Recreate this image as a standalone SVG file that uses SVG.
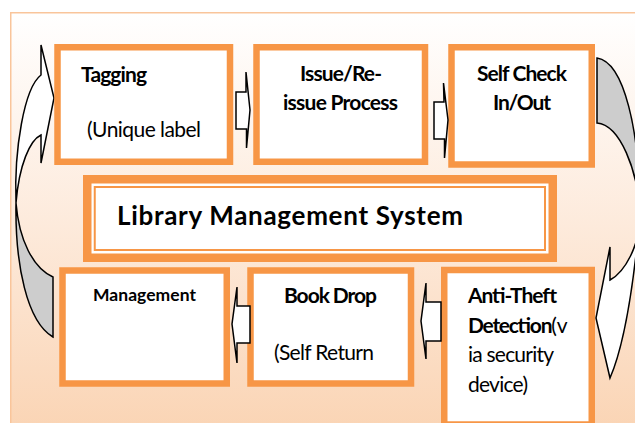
<svg xmlns="http://www.w3.org/2000/svg" width="635" height="423" viewBox="0 0 635 423">
  <defs>
    <linearGradient id="panelFill" x1="0" y1="0" x2="0" y2="1">
      <stop offset="0" stop-color="#FFFFFF"/>
      <stop offset="0.5" stop-color="#FDEADB"/>
      <stop offset="1" stop-color="#FAD3B2"/>
    </linearGradient>
  </defs>
  <style>
    .box { fill: #FFFFFF; stroke: #F79646; stroke-width: 6.5; }
    .band { fill: #FFFFFF; stroke: #F79646; stroke-width: 8.5; }
    .thin { fill: none; stroke: #F79646; stroke-width: 2; }
    .arrow { fill: #FFFFFF; stroke: #000000; stroke-width: 1.5; stroke-linejoin: miter; }
    .back { fill: #CDCDCD; stroke: #000000; stroke-width: 1.5; }
    text { font-family: Lato, "Liberation Sans", sans-serif; fill: #000000; }
    .b { font-weight: bold; font-size: 21px; }
    .r { font-weight: normal; font-size: 21px; }
    .title { font-weight: bold; font-size: 26px; }
    .small { font-weight: bold; font-size: 17.5px; }
  </style>

  <!-- page and panel -->
  <rect x="0" y="0" width="635" height="423" fill="#FFFFFF"/>
  <rect x="10.75" y="12.75" width="640" height="430" fill="url(#panelFill)" stroke="#F9C59B" stroke-width="1.5"/>

  <g id="connectors">
    <!-- left curved arrow: Management back up to Tagging -->
    <path class="back" d="M16,203 C15,265 27,322 53,337 L53,277 C33,268 19,240 16,203 Z"/>
    <path class="arrow" d="M41,75 L41,45 L54,98 L41,163 L41,135 C30,140 19,165 16,203 C14,150 24,88 41,75 Z"/>
    <!-- right curved arrow: Self Check down to Anti-Theft -->
    <path class="back" d="M597,58 C624,62 640,130 640,215 C638,170 620,125 597,123 Z"/>
    <path class="arrow" d="M610,280 L610,247 L596,318 L610,378 C620,355 632,305 640,215 C640,245 625,272 610,280 Z"/>
  </g>

  <g id="tagging">
    <rect class="box" x="57.5" y="47.25" width="172.5" height="114.5"/>
    <text class="b" x="81" y="82" textLength="66">Tagging</text>
    <text class="r" x="87" y="137" textLength="114">(Unique label</text>
  </g>

  <g id="issue">
    <rect class="box" x="256.5" y="47.25" width="168.5" height="114.5"/>
    <text class="b" x="300" y="81" textLength="82">Issue/Re-</text>
    <text class="b" x="283" y="110" textLength="115">issue Process</text>
  </g>

  <g id="self-check">
    <rect class="box" x="451.5" y="47.25" width="140.25" height="117.25"/>
    <text class="b" x="477" y="81" textLength="90">Self Check</text>
    <text class="b" x="493" y="110" textLength="58">In/Out</text>
  </g>

  <g id="library-system">
    <rect class="band" x="87.25" y="179.25" width="465.5" height="78.5"/>
    <rect class="thin" x="94.75" y="187" width="450.25" height="63"/>
    <text class="title" x="117" y="225" textLength="346">Library Management System</text>
  </g>

  <g id="management">
    <rect class="box" x="62.5" y="270.5" width="164.25" height="113"/>
    <text class="small" x="93" y="301" textLength="103">Management</text>
  </g>

  <g id="book-drop">
    <rect class="box" x="250.5" y="270.5" width="160.5" height="113"/>
    <text class="b" x="284" y="303" textLength="93">Book Drop</text>
    <text class="r" x="274" y="360" textLength="100">(Self Return</text>
  </g>

  <g id="anti-theft">
    <rect class="box" x="444.25" y="270" width="147.5" height="154.5"/>
    <text class="b" x="468" y="303" textLength="89">Anti-Theft</text>
    <text x="468" y="333"><tspan class="b" textLength="84.5">Detection</tspan><tspan class="r" textLength="16.5">(v</tspan></text>
    <text class="r" x="468" y="362" textLength="86">ia security</text>
    <text class="r" x="468" y="392" textLength="60">device)</text>
  </g>

  <g id="step-arrows">
    <path class="arrow" d="M236,92 L246,92 L246,72 L250,110 L246.5,148 L246.5,129 L236,129 Z"/>
    <path class="arrow" d="M434,102 L444,102 L443.5,83 L448,120 L444.5,158 L444.5,139 L434,139 Z"/>
    <path class="arrow" d="M441,302 L426,302 L426,283 L421,321 L426,359 L426,341 L441,341 Z"/>
    <path class="arrow" d="M250,306 L237,306 L237,287 L232,324 L237,363 L237,343 L250,343 Z"/>
  </g>
</svg>
